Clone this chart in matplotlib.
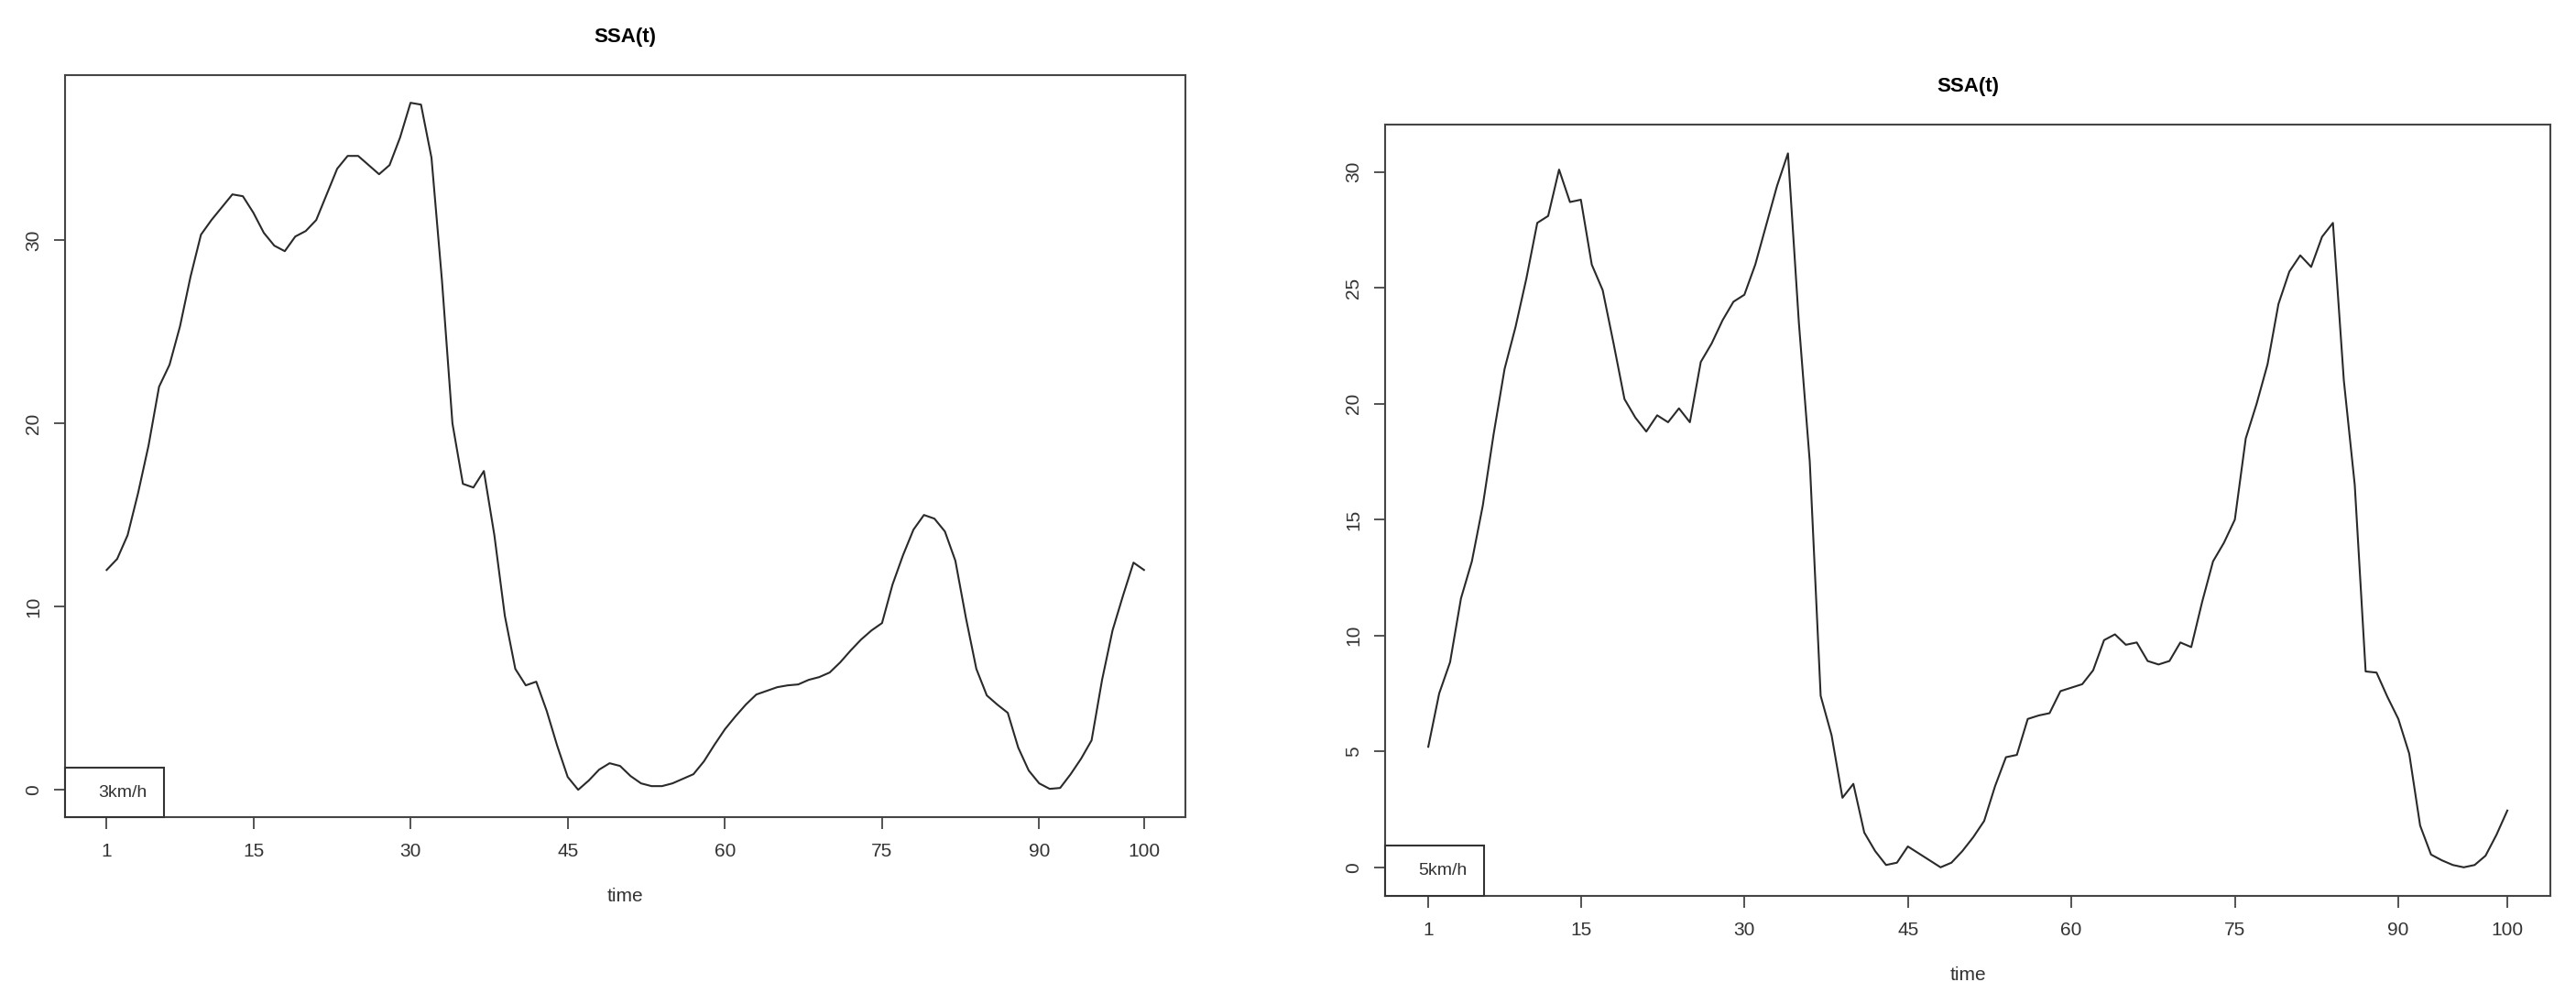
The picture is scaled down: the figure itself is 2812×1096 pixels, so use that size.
#!/usr/bin/env python3

import numpy as np
import matplotlib.pyplot as plt
from matplotlib.lines import Line2D

plt.rcParams["font.family"] = ["Liberation Sans", "DejaVu Sans"]

# SSA(t) for 3 km/h, t = 1..100
ssa_3kmh = [
    12.0, 12.6, 13.9, 16.2, 18.8, 22.0, 23.2, 25.3, 28.0, 30.3,
    31.1, 31.8, 32.5, 32.4, 31.5, 30.4, 29.7, 29.4, 30.2, 30.5,
    31.1, 32.5, 33.9, 34.6, 34.6, 34.1, 33.6, 34.1, 35.6, 37.5,
    37.4, 34.5, 27.8, 20.0, 16.7, 16.5, 17.4, 13.9, 9.5, 6.6,
    5.7, 5.9, 4.3, 2.4, 0.7, 0.0, 0.5, 1.1, 1.45, 1.3,
    0.75, 0.35, 0.2, 0.2, 0.35, 0.6, 0.85, 1.55, 2.45, 3.3,
    4.0, 4.65, 5.2, 5.4, 5.6, 5.7, 5.75, 6.0, 6.15, 6.4,
    6.95, 7.6, 8.2, 8.7, 9.1, 11.2, 12.8, 14.2, 15.0, 14.8,
    14.1, 12.5, 9.4, 6.6, 5.15, 4.65, 4.2, 2.3, 1.05, 0.35,
    0.05, 0.1, 0.85, 1.7, 2.7, 6.0, 8.7, 10.6, 12.4, 12.0,
]

# SSA(t) for 5 km/h, t = 1..100
ssa_5kmh = [
    5.2, 7.5, 8.85, 11.6, 13.2, 15.6, 18.7, 21.5, 23.3, 25.4,
    27.8, 28.1, 30.1, 28.7, 28.8, 26.0, 24.9, 22.6, 20.2, 19.4,
    18.8, 19.5, 19.2, 19.8, 19.2, 21.8, 22.6, 23.6, 24.4, 24.7,
    26.0, 27.7, 29.4, 30.8, 23.5, 17.5, 7.4, 5.7, 3.0, 3.6,
    1.5, 0.7, 0.1, 0.2, 0.9, 0.6, 0.3, 0.0, 0.2, 0.7,
    1.3, 2.0, 3.5, 4.75, 4.85, 6.4, 6.55, 6.65, 7.6, 7.75,
    7.9, 8.5, 9.8, 10.05, 9.6, 9.7, 8.9, 8.75, 8.9, 9.7,
    9.5, 11.45, 13.2, 14.0, 15.0, 18.5, 20.0, 21.7, 24.3, 25.7,
    26.4, 25.9, 27.2, 27.8, 21.0, 16.5, 8.45, 8.4, 7.35, 6.4,
    4.9, 1.8, 0.55, 0.3, 0.1, 0.0, 0.1, 0.5, 1.4, 2.45,
]

time = np.arange(1, 101)
x_ticks = [1, 15, 30, 45, 60, 75, 90, 100]
y_ticks_3 = [0, 10, 20, 30]
y_ticks_5 = [0, 5, 10, 15, 20, 25, 30]

frame_color = "#454545"
text_color = "#333333"


def ssa_panel(ax, y, yticks, label):
    ax.plot(time, y, color="#2a2a2a", linewidth=1.5)
    # R style 4% range expansion
    ax.margins(x=0.04, y=0.04)
    ax.set_xticks(x_ticks)
    ax.set_yticks(yticks)
    ax.tick_params(axis="both", direction="out", length=9, width=1.3,
                   color=frame_color, labelcolor=text_color, labelsize=15)
    ax.tick_params(axis="x", pad=11)
    ax.tick_params(axis="y", pad=9, labelrotation=90)
    for lab in ax.get_yticklabels():
        lab.set_verticalalignment("center")
    for s in ax.spines.values():
        s.set_color(frame_color)
        s.set_linewidth(1.5)
    ax.set_title("SSA(t)", fontsize=16, fontweight="bold", pad=26)
    ax.set_xlabel("time", fontsize=15, color=text_color, labelpad=22)

    leg = ax.legend([Line2D([], [], linestyle="none")], [label],
                    loc="lower left", borderaxespad=0, fancybox=False,
                    framealpha=1, edgecolor="#333333", fontsize=14,
                    handlelength=0.5, handletextpad=0.4, borderpad=0.95)
    leg.get_frame().set_linewidth(1.5)
    for t in leg.get_texts():
        t.set_color(text_color)


fig = plt.figure(figsize=(28.12, 10.96), dpi=100)

ax1 = fig.add_axes([0.0253, 0.186, 0.4349, 0.739])
ssa_panel(ax1, ssa_3kmh, y_ticks_3, "3km/h")

ax2 = fig.add_axes([0.5377, 0.1077, 0.4524, 0.768])
ssa_panel(ax2, ssa_5kmh, y_ticks_5, "5km/h")

plt.savefig("out.png", dpi=100, facecolor="white")
